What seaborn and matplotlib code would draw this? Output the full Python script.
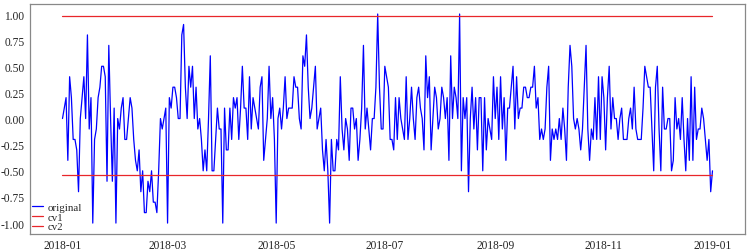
import pandas as pd
import matplotlib.pyplot as plt
import matplotlib.dates as mdates
import seaborn as sns

# 날짜 (2018-01-01 ~ 2019-01-01, 일별)
dates = pd.date_range('2018-01-01', '2019-01-01', freq='D')

# 원본 값 (구간별)
jan_feb = [0.0, 0.1, 0.2, -0.4, 0.4, 0.2, -0.2, -0.2, -0.3, -0.7,
           0.0, 0.2, 0.4, 0.0, 0.8, -0.1, 0.2, -1.0, -0.2, -0.1,
           0.2, 0.3, 0.5, 0.5, 0.4, -0.6, 0.7, 0.0, -0.6, 0.1,
           -1.0, 0.0, -0.1, 0.1, 0.2, -0.2, -0.2, 0.0, 0.2, 0.1,
           -0.2, -0.4, -0.5, -0.3, -0.7, -0.5, -0.9, -0.9, -0.6, -0.7,
           -0.5, -0.8, -0.8, -0.9, -0.5, 0.0, -0.1, 0.0, 0.1, -1.0]
mar_apr = [0.2, 0.1, 0.3, 0.3, 0.2, 0.0, 0.0, 0.8, 0.9, 0.3,
           0.0, 0.5, 0.3, 0.5, 0.0, 0.3, -0.1, 0.0, -0.2, -0.5,
           -0.3, -0.5, 0.0, 0.6, -0.5, -0.5, -0.2, 0.1, -0.1, -0.1,
           -1.0, 0.1, -0.3, -0.3, 0.1, -0.2, 0.2, 0.1, 0.2, -0.2,
           0.1, 0.5, 0.1, 0.1, -0.2, 0.4, -0.1, 0.2, 0.1, 0.0,
           -0.1, 0.3, 0.4, -0.4, -0.2, 0.0, 0.5, 0.0, 0.2, -0.2,
           -1.0]
may_jun = [0.0, 0.1, -0.1, 0.1, 0.4, 0.0, 0.1, 0.1, 0.1, 0.4,
           0.3, 0.3, 0.0, -0.1, 0.6, 0.5, 0.8, 0.3, 0.0, 0.1,
           0.3, 0.5, -0.1, 0.0, 0.1, -0.3, -0.5, -0.2, -0.5, -1.0,
           -0.2, -0.5, -0.5, -0.2, -0.3, 0.4, -0.1, -0.3, 0.0, -0.1,
           -0.4, 0.1, 0.1, -0.1, 0.0, -0.4, -0.2, 0.1, 0.7, -0.1,
           0.1, -0.1, -0.3, 0.0, 0.0, 0.3, 1.0, 0.3, -0.1, -0.1,
           0.5]
jul_sep = [0.4, 0.3, -0.2, -0.2, -0.3, 0.2, -0.2, 0.2, 0.0, -0.1,
           -0.2, 0.4, -0.2, 0.0, 0.3, 0.0, -0.2, 0.2, 0.3, 0.1,
           0.0, -0.3, 0.6, 0.2, 0.4, -0.3, 0.0, 0.3, 0.2, -0.1,
           0.0, 0.3, 0.2, 0.0, 0.2, -0.4, 0.6, 0.0, 0.3, 0.2,
           0.0, 1.0, -0.5, 0.2, 0.0, 0.2, -0.7, 0.0, 0.3, -0.1,
           0.2, -0.3, 0.2, 0.2, -0.5, 0.2, -0.3, 0.0, -0.1, -0.2,
           0.4, 0.0, 0.3, -0.2, 0.4]
sep_nov = [-0.1, 0.2, -0.4, 0.1, 0.1, 0.3, 0.5, -0.1, 0.4, 0.0,
           0.1, 0.1, 0.3, 0.3, 0.2, 0.2, 0.3, 0.3, 0.5, 0.1,
           0.2, -0.2, -0.1, -0.2, -0.1, 0.3, 0.5, -0.4, -0.1, -0.2,
           -0.1, -0.2, 0.0, -0.2, 0.1, -0.1, -0.4, 0.3, 0.7, 0.5,
           0.0, -0.1, 0.0, -0.1, -0.3, -0.1, 0.3, 0.7, -0.1, -0.4,
           -0.1, -0.2, 0.2, -0.2, 0.4, -0.2, 0.4, 0.2, -0.3, 0.2,
           0.5]
nov_dec = [-0.1, 0.2, 0.0, 0.0, -0.2, 0.0, 0.1, -0.2, -0.2, -0.2,
           0.0, 0.1, -0.1, 0.3, -0.1, -0.2, -0.2, -0.2, 0.1, 0.5,
           0.4, 0.3, 0.3, -0.1, -0.5, 0.3, 0.5, -0.1, -0.5, 0.3,
           -0.1, -0.1, 0.0, 0.0, -0.5, -0.4, 0.2, -0.1, 0.0, -0.2,
           0.2, -0.2, -0.5, 0.0, -0.4, 0.4, -0.4, 0.3, -0.2, -0.1,
           -0.1, 0.1, 0.0, -0.2, -0.4, -0.2, -0.7, -0.5]

cv1 = 0.98
cv2 = -0.54

values = jan_feb + mar_apr + may_jun + jul_sep + sep_nov + nov_dec
df = pd.DataFrame({'date': dates, 'original': values})
df['cv1'] = cv1
df['cv2'] = cv2

sns.set_style('white')
plt.rcParams['font.family'] = ['Liberation Serif', 'DejaVu Serif']
plt.rcParams['axes.unicode_minus'] = False

fig, ax = plt.subplots(figsize=(7.5, 2.53), dpi=100)
fig.subplots_adjust(left=0.04, right=0.9933, top=0.982, bottom=0.073)

sns.lineplot(data=df, x='date', y='original', color='blue', lw=0.9, label='original', ax=ax)
sns.lineplot(data=df, x='date', y='cv1', color='#e8262a', lw=0.9, label='cv1', ax=ax)
sns.lineplot(data=df, x='date', y='cv2', color='#e8262a', lw=0.9, label='cv2', ax=ax)

ax.xaxis.set_major_locator(mdates.MonthLocator(bymonth=[1, 3, 5, 7, 9, 11]))
ax.xaxis.set_major_formatter(mdates.DateFormatter('%Y-%m'))
ax.set_xlabel('')
ax.set_ylabel('')

for s in ax.spines.values():
    s.set_color('#888888')
    s.set_linewidth(0.9)
ax.tick_params(length=3, width=0.8, color='#888888', pad=1, labelsize=8.3)

ax.legend(loc='lower left', frameon=False, handlelength=1.0, handletextpad=0.4,
          labelspacing=0.0, borderaxespad=0.1, borderpad=0.1, fontsize=7.8)

plt.savefig('out.png', dpi=100)
